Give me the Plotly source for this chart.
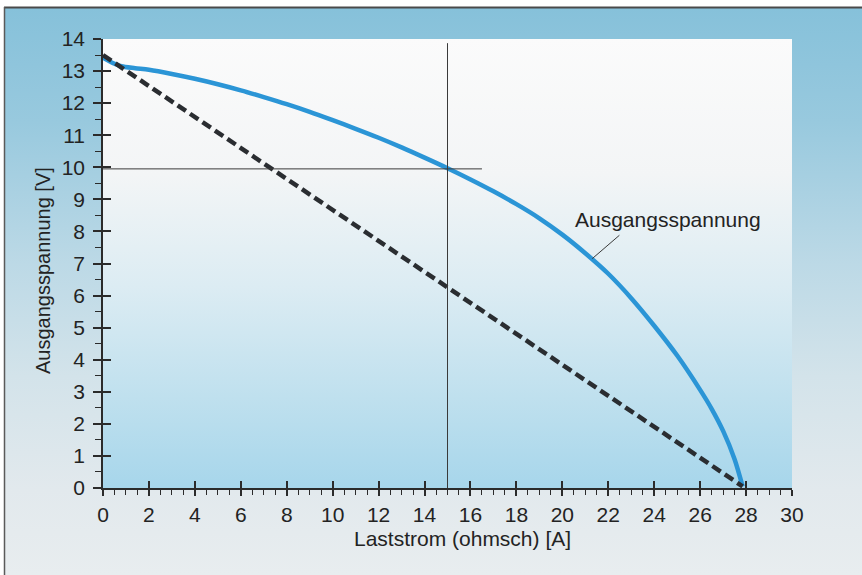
import base64
import plotly.graph_objects as go

# ---- data ----
current_a = [0, 0.4, 0.8, 1.4, 2, 3, 4, 5, 6, 7, 8, 9, 10, 11, 12, 13, 14, 15, 16, 17, 18, 19, 20,
             21, 22, 23, 24, 25, 26, 26.5, 27, 27.5, 27.85]
voltage_v = [13.42, 13.26, 13.15, 13.09, 13.04, 12.91, 12.76, 12.59, 12.40, 12.19, 11.97, 11.73, 11.47,
             11.20, 10.92, 10.62, 10.30, 9.97, 9.62, 9.25, 8.85, 8.41, 7.90, 7.32, 6.68, 5.92, 5.06,
             4.13, 3.06, 2.47, 1.78, 0.90, 0.05]
ideal_current = [0, 27.85]
ideal_voltage = [13.5, 0.05]
marker_current = 15
marker_voltage = 9.95
x_ticks = list(range(0, 31, 2))
y_ticks = list(range(0, 15, 1))
label_text = "Ausgangsspannung"
label_pos = (24.6, 8.37)
leader_tail = (22.55, 7.92)
leader_head = (21.3, 7.15)

W, H = 862, 575
ML, MR, MT, MB = 103, 70, 39, 87
PW, PH = W - ML - MR, H - MT - MB
FONT = "Liberation Sans, Arial, Helvetica, sans-serif"
TXT = "#232323"
AX = "#2b2b2b"


def svg_uri(svg):
    return "data:image/svg+xml;base64," + base64.b64encode(svg.encode()).decode()


outer_svg = """<svg xmlns='http://www.w3.org/2000/svg' width='857' height='568' preserveAspectRatio='none'>
<defs>
<linearGradient id='g' x1='0' y1='0' x2='0' y2='1'>
<stop offset='0' stop-color='#86c1da'/>
<stop offset='0.2' stop-color='#98c9de'/>
<stop offset='0.45' stop-color='#bcd9e6'/>
<stop offset='0.65' stop-color='#d3e3ea'/>
<stop offset='0.85' stop-color='#e2e9ed'/>
<stop offset='1' stop-color='#e8edef'/>
</linearGradient>
</defs>
<rect width='857' height='568' fill='url(#g)'/>
</svg>"""

plot_svg = """<svg xmlns='http://www.w3.org/2000/svg' width='690' height='449' preserveAspectRatio='none'>
<defs>
<linearGradient id='p' x1='0' y1='0' x2='0' y2='1'>
<stop offset='0' stop-color='#fbfbfb'/>
<stop offset='0.3' stop-color='#f3f5f6'/>
<stop offset='0.55' stop-color='#dcecf3'/>
<stop offset='0.8' stop-color='#bfe0ee'/>
<stop offset='1' stop-color='#a7d6eb'/>
</linearGradient>
</defs>
<rect width='690' height='449' fill='url(#p)'/>
</svg>"""

fig = go.Figure()

fig.add_trace(go.Scatter(
    x=current_a, y=voltage_v, mode="lines",
    line=dict(color="#2b95d6", width=4.5, shape="spline", smoothing=0.8),
    hoverinfo="skip", showlegend=False,
))
fig.add_trace(go.Scatter(
    x=ideal_current, y=ideal_voltage, mode="lines",
    line=dict(color="#2a2d31", width=4.5, dash="10px,5px"),
    hoverinfo="skip", showlegend=False,
))
# overlay axes to draw the inward half of the crossing major ticks
fig.add_trace(go.Scatter(x=[None], y=[None], xaxis="x2", yaxis="y2",
                         showlegend=False, hoverinfo="skip"))

xr = [0, 30]
yr = [0, 14]
FS = 21
fig.update_layout(
    width=W, height=H,
    margin=dict(l=ML, r=MR, t=MT, b=MB, pad=0),
    paper_bgcolor="white",
    plot_bgcolor="rgba(0,0,0,0)",
    font=dict(family=FONT, size=FS, color=TXT),
    xaxis=dict(
        range=xr, tickmode="array", tickvals=x_ticks, ticktext=[str(v) for v in x_ticks],
        ticks="outside", ticklen=6, tickwidth=1.5, tickcolor=AX,
        minor=dict(dtick=0.5, ticks="outside", ticklen=5, tickwidth=1.2, tickcolor=AX, showgrid=False),
        showline=True, linecolor=AX, linewidth=1.5, showgrid=False, zeroline=False,
        tickfont=dict(family=FONT, size=FS, color=TXT), ticklabelstandoff=1,
        fixedrange=True,
    ),
    yaxis=dict(
        range=yr, tickmode="array", tickvals=y_ticks, ticktext=[str(v) for v in y_ticks],
        ticks="outside", ticklen=8, tickwidth=1.5, tickcolor=AX,
        minor=dict(dtick=0.5, ticks="outside", ticklen=6, tickwidth=1.2, tickcolor=AX, showgrid=False),
        showline=True, linecolor=AX, linewidth=1.5, showgrid=False, zeroline=False,
        tickfont=dict(family=FONT, size=FS, color=TXT), ticklabelstandoff=4,
        fixedrange=True,
    ),
    xaxis2=dict(range=xr, overlaying="x", tickmode="array", tickvals=x_ticks, showticklabels=False,
                ticks="inside", ticklen=7, tickwidth=1.5, tickcolor=AX, showline=False,
                showgrid=False, zeroline=False, fixedrange=True),
    yaxis2=dict(range=yr, overlaying="y", tickmode="array", tickvals=y_ticks, showticklabels=False,
                ticks="inside", ticklen=8, tickwidth=1.5, tickcolor=AX, showline=False,
                showgrid=False, zeroline=False, fixedrange=True),
    images=[
        dict(source=svg_uri(outer_svg), xref="paper", yref="paper",
             x=(5 - ML) / PW, y=(H - MB - 8) / PH, sizex=(W - 5) / PW, sizey=(H - 8) / PH,
             sizing="stretch", xanchor="left", yanchor="top", layer="below"),
        dict(source=svg_uri(plot_svg), xref="paper", yref="paper",
             x=0, y=1, sizex=1, sizey=1,
             sizing="stretch", xanchor="left", yanchor="top", layer="below"),
    ],
    shapes=[
        # frame border of the panel
        dict(type="line", xref="paper", yref="paper",
             x0=(4 - ML) / PW, x1=(W - ML) / PW, y0=(H - MB - 7.5) / PH, y1=(H - MB - 7.5) / PH,
             line=dict(color="#4a4a4a", width=2)),
        dict(type="line", xref="paper", yref="paper",
             x0=(4.5 - ML) / PW, x1=(4.5 - ML) / PW, y0=(H - MB - 7) / PH, y1=-MB / PH,
             line=dict(color="#5a5a5a", width=1.5)),
        # reference crosshair
        dict(type="line", xref="x", yref="y", x0=marker_current, x1=marker_current, y0=13.87, y1=-0.42,
             line=dict(color="#3a3a3a", width=1)),
        dict(type="line", xref="x", yref="y", x0=0, x1=16.5, y0=marker_voltage, y1=marker_voltage,
             line=dict(color="#3a3a3a", width=1)),
    ],
    annotations=[
        dict(text="Ausgangsspannung [V]", xref="paper", yref="paper",
             x=(43 - ML) / PW, y=(H - MB - 271) / PH, textangle=-90, showarrow=False,
             font=dict(family=FONT, size=20, color=TXT), xanchor="center", yanchor="middle"),
        dict(text="Laststrom (ohmsch) [A]", xref="paper", yref="paper",
             x=(462 - ML) / PW, y=(H - MB - 538) / PH, showarrow=False,
             font=dict(family=FONT, size=FS, color=TXT), xanchor="center", yanchor="middle"),
        dict(text=label_text, x=label_pos[0], y=label_pos[1], xref="x", yref="y", showarrow=False,
             font=dict(family=FONT, size=FS, color=TXT), xanchor="center", yanchor="middle"),
        dict(text="", x=leader_head[0], y=leader_head[1], xref="x", yref="y",
             ax=leader_tail[0], ay=leader_tail[1], axref="x", ayref="y",
             showarrow=True, arrowhead=0, arrowwidth=1, arrowcolor="#3a3a3a", standoff=0),
    ],
)

fig.write_html("out.html", config={"displayModeBar": False},
               post_script="document.body.style.margin='0px';")
